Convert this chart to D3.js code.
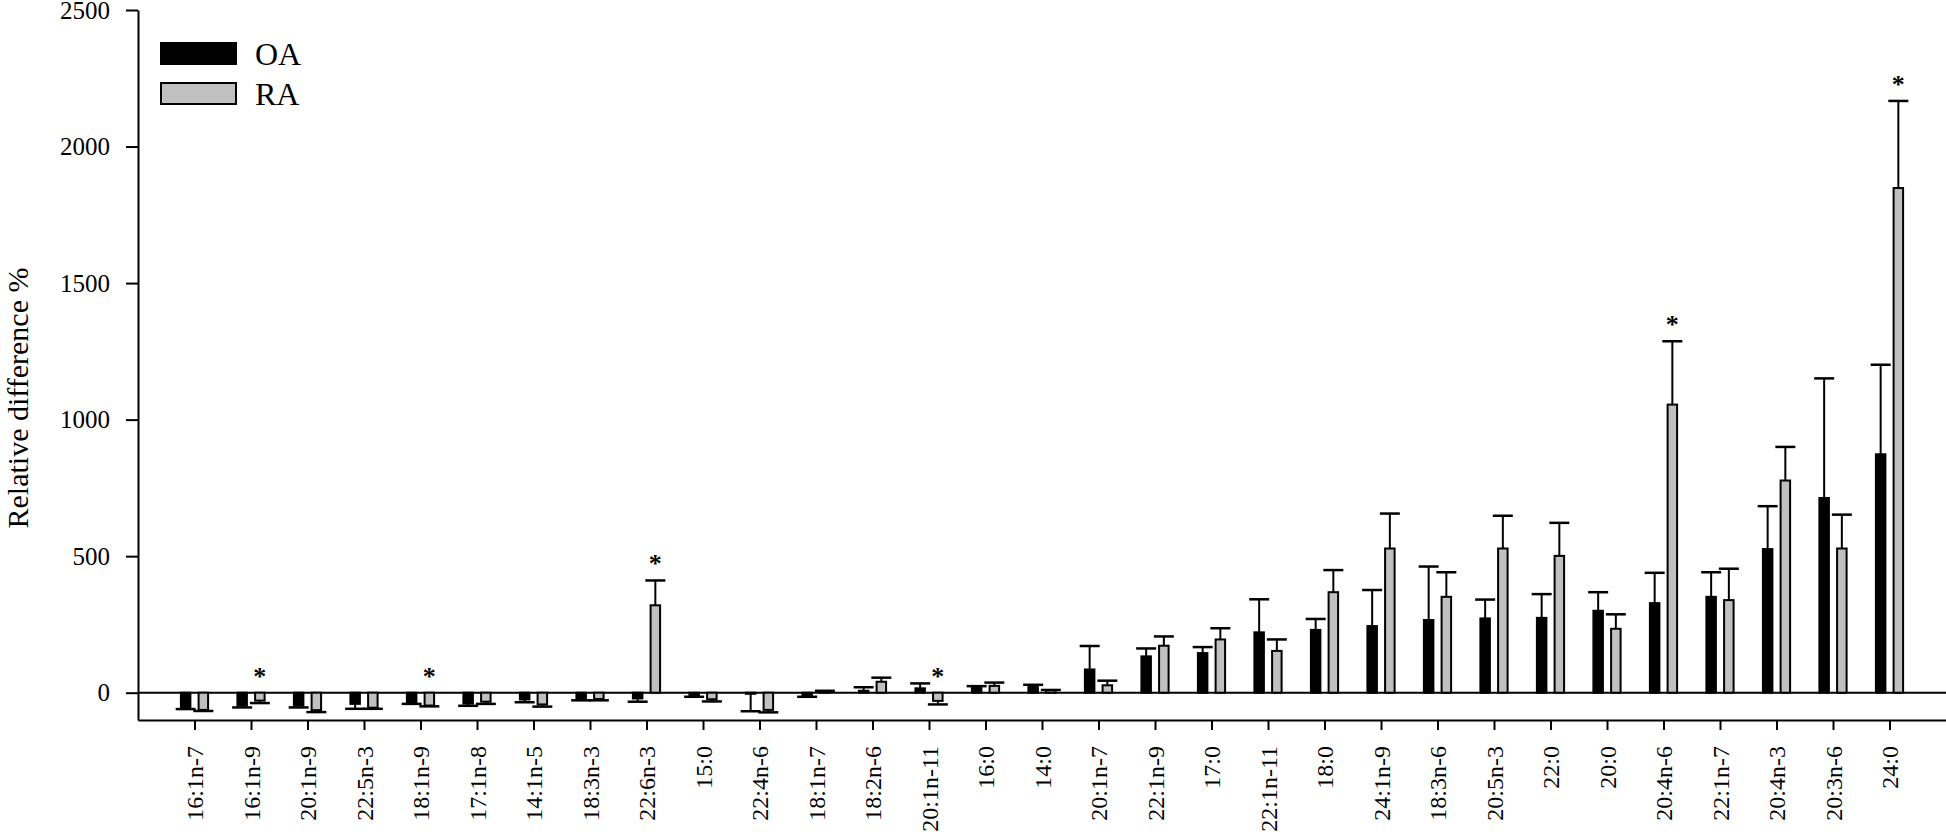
<!DOCTYPE html>
<html>
<head>
<meta charset="utf-8">
<script src="https://cdn.jsdelivr.net/npm/d3@7"></script>
<style>
  body { margin: 0; background: #fff; }
  svg { display: block; font-family: "Liberation Serif", "Times New Roman", serif; }
  svg text { font-family: "Liberation Serif", "Times New Roman", serif; fill: #000; }
</style>
</head>
<body>
<svg id="chart"></svg>
<script>
const categories = ["16:1n-7","16:1n-9","20:1n-9","22:5n-3","18:1n-9","17:1n-8","14:1n-5","18:3n-3","22:6n-3","15:0",
  "22:4n-6","18:1n-7","18:2n-6","20:1n-11","16:0","14:0","20:1n-7","22:1n-9","17:0","22:1n-11",
  "18:0","24:1n-9","18:3n-6","20:5n-3","22:0","20:0","20:4n-6","22:1n-7","20:4n-3","20:3n-6","24:0"];

// mean relative difference (%) and error (SD) for each group
const oaValues = [-54,-47,-47,-41,-38,-40,-25,-22,-21,-12, -4,-12,7,16,22,23,85,133,145,221, 230,244,266,272,274,300,328,351,526,713,873];
const oaErrors = [6,7,7,18,3,8,10,6,12,3, 64,3,13,18,2,6,86,29,22,121, 40,132,196,69,87,68,111,90,157,438,328];
const raValues = [-63,-29,-64,-55,-47,-33,-43,-23,320,-24, -63,5,40,-30,25,9,27,172,195,153, 368,528,351,528,501,234,1055,339,777,528,1848];
const raErrors = [4,9,7,4,3,8,8,5,91,8, 9,2,15,13,12,1,17,34,41,42, 81,128,90,120,121,53,232,115,123,124,319];

// RA significantly different (*)
const sigRA = ["16:1n-9","18:1n-9","22:6n-3","20:1n-11","20:4n-6","24:0"];

const series = ["OA", "RA"];
const seriesColors = ["#000000", "#c0c0c0"];
const yTicks = [0, 500, 1000, 1500, 2000, 2500];

const width = 1946, height = 837;

const svg = d3.select("#chart")
  .attr("width", width)
  .attr("height", height);

const x = d3.scalePoint()
  .domain(categories)
  .range([138, 1946])
  .padding(1);

const xInner = d3.scaleBand()
  .domain(series)
  .range([-14.6, 14.6])
  .paddingInner(0.35);

const y = d3.scaleLinear()
  .domain([-100, 2500])
  .range([720, 10]);

const color = d3.scaleOrdinal(series, seriesColors);

const rows = categories.map((c, i) => ({
  cat: c,
  vals: [
    {key: "OA", v: oaValues[i], e: oaErrors[i]},
    {key: "RA", v: raValues[i], e: raErrors[i]}
  ]
}));

// zero line
svg.append("line")
  .attr("x1", x.range()[0]).attr("x2", x.range()[1])
  .attr("y1", y(0)).attr("y2", y(0))
  .attr("stroke", "#000").attr("stroke-width", 2);

const groups = svg.append("g")
  .selectAll("g")
  .data(rows)
  .join("g")
  .attr("transform", d => `translate(${x(d.cat)},0)`);

// error bars (only away from zero)
const eb = groups.selectAll("g.err")
  .data(d => d.vals)
  .join("g")
  .attr("class", "err")
  .attr("transform", d => `translate(${xInner(d.key) + xInner.bandwidth() / 2},0)`);

eb.append("line")
  .attr("y1", d => y(d.v))
  .attr("y2", d => y(d.v + Math.sign(d.v) * d.e))
  .attr("stroke", "#000").attr("stroke-width", 2);

eb.append("line")
  .attr("x1", -10).attr("x2", 10)
  .attr("y1", d => y(d.v + Math.sign(d.v) * d.e))
  .attr("y2", d => y(d.v + Math.sign(d.v) * d.e))
  .attr("stroke", "#000").attr("stroke-width", 2.5);

// bars
groups.selectAll("rect")
  .data(d => d.vals)
  .join("rect")
  .attr("x", d => xInner(d.key) + 1)
  .attr("width", xInner.bandwidth() - 2)
  .attr("y", d => y(Math.max(0, d.v)))
  .attr("height", d => Math.abs(y(d.v) - y(0)))
  .attr("fill", d => color(d.key))
  .attr("stroke", "#000")
  .attr("stroke-width", 2);

// significance stars
svg.append("g")
  .selectAll("text")
  .data(rows.filter(d => sigRA.includes(d.cat)))
  .join("text")
  .attr("x", d => x(d.cat) + xInner("RA") + xInner.bandwidth() / 2)
  .attr("y", d => {
    const r = d.vals[1];
    return y(Math.max(0, r.v + Math.sign(r.v) * r.e)) - 20 + 12;
  })
  .attr("text-anchor", "middle")
  .style("font-size", "26px")
  .style("font-weight", "bold")
  .text("*");

// y axis
const yAxis = svg.append("g")
  .attr("transform", "translate(138,0)")
  .attr("font-family", null)
  .attr("font-size", null)
  .call(d3.axisLeft(y).tickValues(yTicks).tickFormat(d3.format("d"))
    .tickSize(12).tickSizeOuter(0).tickPadding(16));
yAxis.select(".domain").attr("stroke-width", 2);
yAxis.selectAll(".tick line").attr("stroke-width", 2);
yAxis.selectAll("text")
  .style("font-size", "25px");

// x axis
const xAxis = svg.append("g")
  .attr("transform", "translate(0,720)")
  .call(d3.axisBottom(x).tickSize(10).tickSizeOuter(0));
xAxis.select(".domain").attr("stroke-width", 2);
xAxis.selectAll(".tick line").attr("stroke-width", 2);
xAxis.selectAll("text")
  .attr("transform", "rotate(-90)")
  .attr("x", -26)
  .attr("y", 0)
  .attr("dy", "0.35em")
  .attr("text-anchor", "end")
  .style("font-size", "24px");

// y axis title
svg.append("text")
  .attr("transform", "rotate(-90)")
  .attr("x", -398)
  .attr("y", 28)
  .attr("text-anchor", "middle")
  .style("font-size", "30px")
  .text("Relative difference %");

// legend
const legend = svg.append("g")
  .selectAll("g")
  .data(series)
  .join("g")
  .attr("transform", (d, i) => `translate(161,${43 + i * 40})`);

legend.append("rect")
  .attr("width", 75)
  .attr("height", 21)
  .attr("fill", d => color(d))
  .attr("stroke", "#000")
  .attr("stroke-width", 2);

legend.append("text")
  .attr("x", 94)
  .attr("y", 22)
  .style("font-size", "32px")
  .text(d => d);
</script>
</body>
</html>
